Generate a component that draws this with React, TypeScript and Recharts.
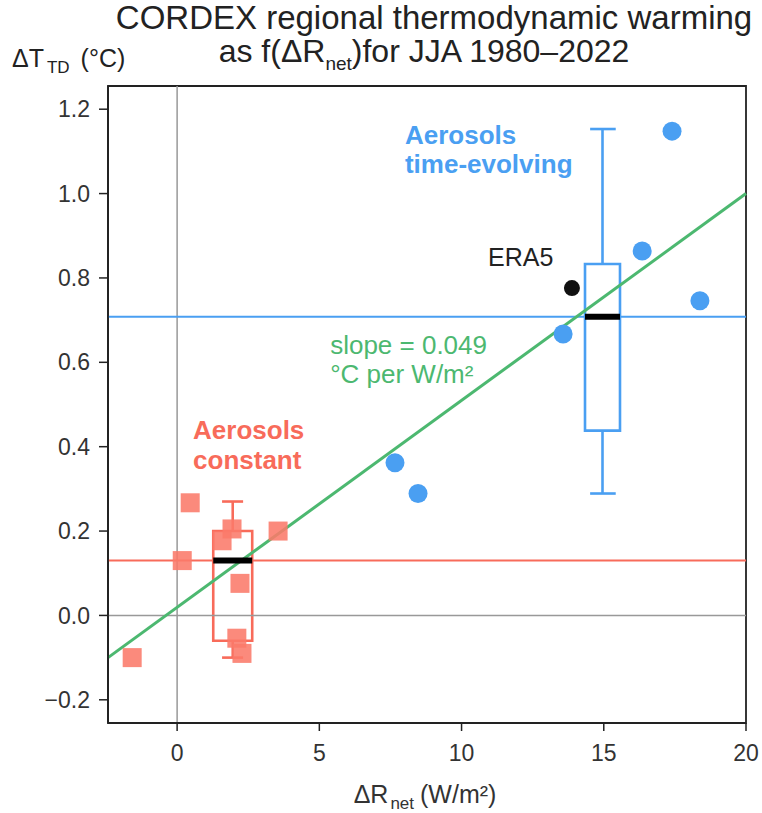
import React from 'react';
import {
  ScatterChart,
  Scatter,
  XAxis,
  YAxis,
  ReferenceLine,
  ReferenceArea,
  ReferenceDot,
} from 'recharts';

// ---- data ----
const constX = [-1.58, 0.18, 0.46, 1.58, 1.93, 2.21, 2.1, 2.28, 3.55];
const constY = [-0.1, 0.13, 0.267, 0.177, 0.205, 0.076, -0.054, -0.09, 0.2];
const evolX = [7.66, 8.47, 13.57, 16.35, 17.4, 18.38];
const evolY = [0.362, 0.289, 0.667, 0.864, 1.148, 0.746];
const era5X = [13.88];
const era5Y = [0.776];

// box plots: [min, q1, median, q3, max]
const constBoxX = [1.27, 2.64];
const constCapX = [1.58, 2.32];
const constBoxQ = [-0.1, -0.06, 0.13, 0.2, 0.27];
const evolBoxX = [14.34, 15.57];
const evolCapX = [14.52, 15.42];
const evolBoxQ = [0.289, 0.438, 0.708, 0.833, 1.153];

const constMean = 0.13;
const evolMean = 0.708;

const fitX = [-2.43, 20];
const fitY = [-0.1, 1.0];

const xTicks = [0, 5, 10, 15, 20];
const yTicks = [-0.2, 0, 0.2, 0.4, 0.6, 0.8, 1.0, 1.2];
const xDomain = [-2.43, 20];
const yDomain = [-0.255, 1.255];

const RED = '#f86b5a';
const RED_FILL = '#fa7a6a';
const BLUE = '#4a9ff2';
const GREEN = '#4cb870';
const FONT = '"Liberation Sans", Arial, sans-serif';

const constData = constX.map((x, i) => ({ x, y: constY[i] }));
const evolData = evolX.map((x, i) => ({ x, y: evolY[i] }));
const era5Data = era5X.map((x, i) => ({ x, y: era5Y[i] }));

const Square = (p: any) => (
  <rect x={p.cx - 9.5} y={p.cy - 9.5} width={19} height={19} fill={RED_FILL} fillOpacity={0.88} />
);
const BlueDot = (p: any) => <circle cx={p.cx} cy={p.cy} r={9.5} fill={BLUE} />;
const BlackDot = (p: any) => <circle cx={p.cx} cy={p.cy} r={8} fill="#111" />;

const annot =
  (lines: string[], color: string, weight: string, size: number, lh: number) =>
  (props: any) => {
    const vb = props.viewBox || {};
    const x = (vb.x || 0) + (vb.width || 0) / 2;
    const y = (vb.y || 0) + (vb.height || 0) / 2;
    return (
      <text x={x} y={y} fill={color} fontSize={size} fontWeight={weight} fontFamily={FONT}>
        {lines.map((l, i) => (
          <tspan key={i} x={x} dy={i === 0 ? 0 : lh}>
            {l}
          </tspan>
        ))}
      </text>
    );
  };

const fmt = (v: number) => v.toFixed(1).replace('-', '\u2212');

export default function App() {
  const boxes = [
    { bx: constBoxX, cap: constCapX, q: constBoxQ, color: RED },
    { bx: evolBoxX, cap: evolCapX, q: evolBoxQ, color: BLUE },
  ];
  return (
    <div style={{ position: 'absolute', left: 0, top: 0, width: 762, height: 813, background: '#fff' }}>
      <ScatterChart width={762} height={813} margin={{ top: 86, right: 16, bottom: 60, left: 0 }}>
        <XAxis
          type="number"
          dataKey="x"
          domain={xDomain}
          ticks={xTicks}
          allowDataOverflow
          height={30}
          axisLine={{ stroke: '#222', strokeWidth: 1.8 }}
          tickLine={{ stroke: '#222', strokeWidth: 1.5 }}
          tickSize={8}
          tickMargin={14}
          tick={{ fontSize: 23, fill: '#333', fontFamily: FONT }}
        />
        <YAxis
          type="number"
          dataKey="y"
          domain={yDomain}
          ticks={yTicks}
          allowDataOverflow
          width={108}
          tickFormatter={fmt}
          axisLine={{ stroke: '#222', strokeWidth: 1.8 }}
          tickLine={{ stroke: '#222', strokeWidth: 1.5 }}
          tickSize={9}
          tickMargin={9}
          tick={{ fontSize: 23, fill: '#333', fontFamily: FONT }}
        />
        <ReferenceArea
          x1={xDomain[0]}
          x2={xDomain[1]}
          y1={yDomain[0]}
          y2={yDomain[1]}
          fill="none"
          stroke="#222"
          strokeWidth={1.8}
        />
        <ReferenceLine x={0} stroke="#999" strokeWidth={1.5} />
        <ReferenceLine y={0} stroke="#999" strokeWidth={1.5} />
        <ReferenceLine y={constMean} stroke={RED} strokeWidth={2} />
        <ReferenceLine y={evolMean} stroke={BLUE} strokeWidth={2.2} />
        {boxes.map((b, i) => {
          const mid = (b.bx[0] + b.bx[1]) / 2;
          return (
            <React.Fragment key={i}>
              <ReferenceArea x1={b.bx[0]} x2={b.bx[1]} y1={b.q[1]} y2={b.q[3]} fill="none" fillOpacity={0} stroke={b.color} strokeWidth={2.6} />
              <ReferenceLine segment={[{ x: mid, y: b.q[0] }, { x: mid, y: b.q[1] }]} stroke={b.color} strokeWidth={2.6} />
              <ReferenceLine segment={[{ x: mid, y: b.q[3] }, { x: mid, y: b.q[4] }]} stroke={b.color} strokeWidth={2.6} />
              <ReferenceLine segment={[{ x: b.cap[0], y: b.q[0] }, { x: b.cap[1], y: b.q[0] }]} stroke={b.color} strokeWidth={2.6} />
              <ReferenceLine segment={[{ x: b.cap[0], y: b.q[4] }, { x: b.cap[1], y: b.q[4] }]} stroke={b.color} strokeWidth={2.6} />
            </React.Fragment>
          );
        })}
        <ReferenceLine
          segment={[{ x: fitX[0], y: fitY[0] }, { x: fitX[1], y: fitY[1] }]}
          stroke={GREEN}
          strokeWidth={3}
        />
        {boxes.map((b, i) => (
          <ReferenceLine key={'m' + i} segment={[{ x: b.bx[0], y: b.q[2] }, { x: b.bx[1], y: b.q[2] }]} stroke="#000" strokeWidth={6} />
        ))}
        <Scatter data={constData} shape={Square} isAnimationActive={false} />
        <Scatter data={evolData} shape={BlueDot} isAnimationActive={false} />
        <Scatter data={era5Data} shape={BlackDot} isAnimationActive={false} />
        <ReferenceDot x={8.01} y={1.117} r={0} fill="none" stroke="none" label={annot(['Aerosols', 'time-evolving'], BLUE, 'bold', 26, 29)} />
        <ReferenceDot x={10.93} y={0.828} r={0} fill="none" stroke="none" label={annot(['ERA5'], '#222', 'normal', 25, 24)} />
        <ReferenceDot x={5.38} y={0.62} r={0} fill="none" stroke="none" label={annot(['slope = 0.049', '\u00b0C per W/m\u00b2'], GREEN, 'normal', 26, 29)} />
        <ReferenceDot x={0.56} y={0.419} r={0} fill="none" stroke="none" label={annot(['Aerosols', 'constant'], RED, 'bold', 26, 30)} />
      </ScatterChart>
      <svg width={762} height={813} style={{ position: 'absolute', left: 0, top: 0, pointerEvents: 'none' }}>
        <text x={434} y={29} textAnchor="middle" fontSize={33} fill="#222" fontFamily={FONT}>
          CORDEX regional thermodynamic warming
        </text>
        <text x={424} y={62} textAnchor="middle" fontSize={32} fill="#222" fontFamily={FONT}>
          as f(ΔR<tspan fontSize={19} dy={8}>net</tspan>
          <tspan dy={-8}>)for JJA 1980–2022</tspan>
        </text>
        <text x={12} y={67} fontSize={25} fill="#222" fontFamily={FONT}>
          ΔT<tspan fontSize={17} dy={6} dx={3}>TD</tspan>
          <tspan dy={-6} dx={4}>{' (°C)'}</tspan>
        </text>
        <text x={425} y={803} textAnchor="middle" fontSize={25} fill="#333" fontFamily={FONT}>
          ΔR<tspan fontSize={17} dy={6} dx={2}>net</tspan>
          <tspan dy={-6} dx={6}>(W/m²)</tspan>
        </text>
      </svg>
    </div>
  );
}
